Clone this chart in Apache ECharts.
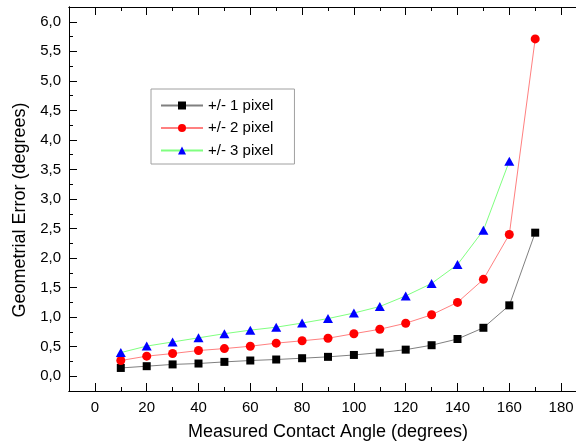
<!DOCTYPE html>
<html>
<head>
<meta charset="utf-8">
<script src="https://cdn.jsdelivr.net/npm/echarts@6/dist/echarts.min.js"></script>
<style>
  html, body { margin: 0; padding: 0; background: #fff; }
  #chart { width: 576px; height: 445px; }
</style>
</head>
<body>
<div id="chart"></div>
<script>
// Measured contact angle (degrees)
const angles = [10, 20, 30, 40, 50, 60, 70, 80, 90, 100, 110, 120, 130, 140, 150, 160, 170];
// Geometrical error (degrees) for each pixel uncertainty
const err1px = [0.14, 0.17, 0.20, 0.215, 0.243, 0.266, 0.283, 0.305, 0.328, 0.36, 0.40, 0.45, 0.525, 0.63, 0.82, 1.20, 2.43];
const err2px = [0.266, 0.34, 0.384, 0.435, 0.468, 0.508, 0.56, 0.60, 0.643, 0.72, 0.795, 0.897, 1.04, 1.25, 1.64, 2.40, 5.71];
const err3px = [0.40, 0.51, 0.58, 0.65, 0.72, 0.78, 0.83, 0.90, 0.976, 1.07, 1.18, 1.36, 1.57, 1.89, 2.47, 3.64];
const seriesNames = ['+/- 1 pixel', '+/- 2 pixel', '+/- 3 pixel'];

const FONT = 'Liberation Sans, Arial, sans-serif';
const pairs = (ys) => ys.map((y, i) => [angles[i], y]);

const axisLine = { show: true, onZero: false, lineStyle: { color: '#000', width: 1 } };

function xAxisDef(position, major, withLabels) {
  const a = {
    type: 'value', position: position, min: -10, max: 190,
    axisLine: axisLine,
    axisTick: { show: true, inside: true, length: major ? 8 : 4, lineStyle: { color: '#000', width: 1 } },
    splitLine: { show: false },
    axisLabel: { show: false }
  };
  if (major) a.splitNumber = 10; else a.interval = 10;
  if (withLabels) {
    a.axisLabel = {
      show: true, margin: 9, color: '#000', fontSize: 15, fontFamily: FONT,
      formatter: (v) => (Math.abs(v % 20) < 1e-9 && v >= 0 && v <= 180) ? String(v) : ''
    };
    a.name = 'Measured Contact Angle (degrees)';
    a.nameLocation = 'middle';
    a.nameGap = 32;
    a.nameTextStyle = { color: '#000', fontSize: 18, fontFamily: FONT };
  }
  return a;
}

function yAxisDef(position, major, withLabels) {
  const a = {
    type: 'value', position: position, min: -0.25, max: 6.25,
    axisLine: axisLine,
    axisTick: { show: true, inside: true, length: major ? 8 : 4, lineStyle: { color: '#000', width: 1 } },
    splitLine: { show: false },
    axisLabel: { show: false }
  };
  if (major) a.splitNumber = 13; else a.interval = 0.25;
  if (withLabels) {
    a.axisLabel = {
      show: true, margin: 8, color: '#000', fontSize: 15, fontFamily: FONT,
      formatter: (v) => {
        const h = v * 2;
        if (Math.abs(h - Math.round(h)) > 1e-6 || v < 0 || v > 6.01) return '';
        return v.toFixed(1).replace('.', ',');
      }
    };
    a.name = 'Geometrial Error (degrees)';
    a.nameLocation = 'middle';
    a.nameGap = 33;
    a.nameTextStyle = { color: '#000', fontSize: 18, fontFamily: FONT, padding: [0, 22, 0, 0] };
  }
  return a;
}

const chart = echarts.init(document.getElementById('chart'), null, { renderer: 'canvas' });
chart.setOption({
  animation: false,
  backgroundColor: '#fff',
  grid: { left: 69, top: 7, width: 518, height: 384, containLabel: false, outerBoundsMode: 'none' },
  xAxis: [
    xAxisDef('bottom', false, false),
    xAxisDef('bottom', true, true),
    xAxisDef('top', false, false),
    xAxisDef('top', true, false)
  ],
  yAxis: [
    yAxisDef('left', false, false),
    yAxisDef('left', true, true)
  ],
  legend: {
    orient: 'vertical',
    left: 151, top: 89,
    padding: [8, 21, 5, 9],
    itemWidth: 42, itemHeight: 10, itemGap: 5.5,
    backgroundColor: '#fff',
    borderColor: '#a0a0a0', borderWidth: 1,
    selectedMode: false,
    textStyle: { color: '#000', fontSize: 15, fontFamily: FONT, lineHeight: 17, padding: [0, 0, 0, 0] },
    data: seriesNames
  },
  series: [
    {
      name: seriesNames[0], type: 'line', xAxisIndex: 1, yAxisIndex: 1,
      data: pairs(err1px), symbol: 'rect', symbolSize: 8,
      itemStyle: { color: '#000' }, lineStyle: { color: '#808080', width: 1 }
    },
    {
      name: seriesNames[1], type: 'line', xAxisIndex: 1, yAxisIndex: 1,
      data: pairs(err2px), symbol: 'circle', symbolSize: 9,
      itemStyle: { color: '#ff0000' }, lineStyle: { color: '#ff8080', width: 1 }
    },
    {
      name: seriesNames[2], type: 'line', xAxisIndex: 1, yAxisIndex: 1,
      data: pairs(err3px), symbol: 'triangle', symbolSize: [10, 9],
      itemStyle: { color: '#0000ff' }, lineStyle: { color: '#80ff80', width: 1 }
    }
  ]
});
</script>
</body>
</html>
